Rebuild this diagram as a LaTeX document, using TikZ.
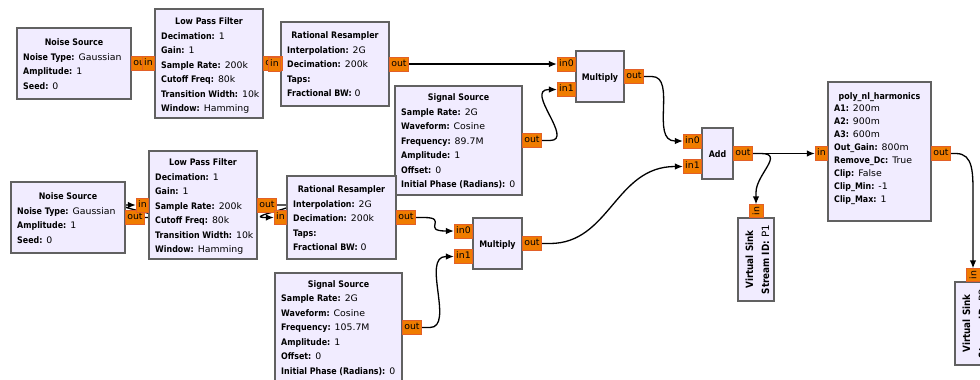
\documentclass[tikz,border=0pt]{standalone}
\usepackage{fontspec}
\setmainfont{DejaVu Sans}[FakeStretch=1.04]
\newfontfamily\keyfont{DejaVu Sans}[FakeStretch=0.88]
\usetikzlibrary{arrows.meta}
\definecolor{blockfill}{RGB}{241,236,255}
\definecolor{blockedge}{RGB}{97,97,97}
\definecolor{portfill}{RGB}{240,124,0}
\definecolor{portedge}{RGB}{226,96,40}
\pgfdeclarelayer{paper}
\pgfdeclarelayer{wires}
\pgfsetlayers{paper,wires,main}
% parameter line: bold key, plain value
\newcommand\kv[2]{{\keyfont\bfseries #1:} #2}
% block outline: name, x1, y1, x2, y2
\newcommand\fgbox[5]{\node[blk, minimum width={(#4-#2)*1bp}, minimum height={(#5-#3)*1bp}] (#1) at ({(#2+#4)/2},{(#3+#5)/2}) {};}
% block text: name, x1, x2, title baseline, line step, title, parameter lines
\newcommand\fgtext[7]{%
  \node[ttl] (#1-t) at ({(#2+#3)/2},#4) {#6};
  \foreach \row [count=\i] in {#7} {\node[txt] (#1-l\i) at ({#2+6},{#4+\i*#5}) {\row};}}
% connection with short straight ends and a cubic bend
\newcommand\wire[3]{\draw[wire] (#1.east) -- ++(8,0) .. controls +(#3,0) and ([xshift=-#3-8]#2.west) .. ([xshift=-8]#2.west) -- (#2.west);}
\tikzset{
  blk/.style={draw=blockedge, fill=blockfill, line width=1.3bp, inner sep=0pt},
  ttl/.style={anchor=base, inner sep=0pt, font=\fontsize{9bp}{10bp}\selectfont\keyfont\bfseries},
  txt/.style={anchor=base west, inner sep=0pt, font=\fontsize{9bp}{10bp}\selectfont},
  port/.style={draw=portedge, fill=portfill, line width=0.6bp, inner xsep=2bp, inner ysep=0pt,
    minimum height=14bp, font=\fontsize{9bp}{10bp}\selectfont, text height=6.5bp, text depth=1.7bp},
  outport/.style={port, anchor=west},
  inport/.style={port, anchor=east},
  vport/.style={draw=portedge, fill=portfill, line width=0.6bp, inner sep=0pt, minimum width=14bp,
    minimum height=13bp, anchor=south, font=\fontsize{9bp}{10bp}\selectfont},
  wire/.style={draw=black, line width=1.3bp, -{Latex[length=8bp,width=6.5bp]}},
  sinktext/.style={rotate=90, align=center, inner sep=0pt, font=\fontsize{10bp}{16bp}\selectfont}
}
\begin{document}
\begin{tikzpicture}[x=1bp, y=-1bp]
\useasboundingbox (0,0) rectangle (980,379);
\clip (0,0) rectangle (980,379);
\begin{pgfonlayer}{paper}
\fill[white] (0,0) rectangle (980,379);
\end{pgfonlayer}

% ---- blocks ----
\fgbox{ns1}{17}{28}{131}{99}
\fgtext{ns1}{17}{131}{45.75}{14.5}{Noise Source}{{\kv{Noise Type}{Gaussian}},{\kv{Amplitude}{1}},{\kv{Seed}{0}}}
\fgbox{lpf1}{155}{9}{263}{118}
\fgtext{lpf1}{155}{263}{24.5}{14.5}{Low Pass Filter}{{\kv{Decimation}{1}},{\kv{Gain}{1}},{\kv{Sample Rate}{200k}},{\kv{Cutoff Freq}{80k}},{\kv{Transition Width}{10k}},{\kv{Window}{Hamming}}}
\fgbox{rr1}{281}{22}{389}{106}
\fgtext{rr1}{281}{389}{38.5}{14.5}{Rational Resampler}{{\kv{Interpolation}{2G}},{\kv{Decimation}{200k}},{\kv{Taps}{}},{\kv{Fractional BW}{0}}}
\fgbox{ss1}{395}{86}{522}{195}
\fgtext{ss1}{395}{522}{100.5}{14.5}{Signal Source}{{\kv{Sample Rate}{2G}},{\kv{Waveform}{Cosine}},{\kv{Frequency}{89.7M}},{\kv{Amplitude}{1}},{\kv{Offset}{0}},{\kv{Initial Phase (Radians)}{0}}}
\fgbox{mul1}{576}{51}{624}{102}
\node[ttl] (mul1-t) at (600,80.5) {Multiply};
\fgbox{add}{702}{128}{733}{179}
\node[ttl] (add-t) at (717.5,157.5) {Add};
\fgbox{poly}{828}{82}{931}{221}
\fgtext{poly}{828}{931}{99}{12.9}{poly\_nl\_harmonics}{{\kv{A1}{200m}},{\kv{A2}{900m}},{\kv{A3}{600m}},{\kv{Out\_Gain}{800m}},{\kv{Remove\_Dc}{True}},{\kv{Clip}{False}},{\kv{Clip\_Min}{-1}},{\kv{Clip\_Max}{1}}}

\fgbox{ns2}{11}{182}{125}{253}
\fgtext{ns2}{11}{125}{199.75}{14.5}{Noise Source}{{\kv{Noise Type}{Gaussian}},{\kv{Amplitude}{1}},{\kv{Seed}{0}}}
\fgbox{lpf2}{149}{151}{257}{259}
\fgtext{lpf2}{149}{257}{165.5}{14.5}{Low Pass Filter}{{\kv{Decimation}{1}},{\kv{Gain}{1}},{\kv{Sample Rate}{200k}},{\kv{Cutoff Freq}{80k}},{\kv{Transition Width}{10k}},{\kv{Window}{Hamming}}}
\fgbox{rr2}{287}{176}{396}{259}
\fgtext{rr2}{287}{396}{192.5}{14.5}{Rational Resampler}{{\kv{Interpolation}{2G}},{\kv{Decimation}{200k}},{\kv{Taps}{}},{\kv{Fractional BW}{0}}}
\fgbox{mul2}{473}{218}{522}{269}
\node[ttl] (mul2-t) at (497.5,247.5) {Multiply};
\fgbox{ss2}{275}{273}{402}{382}
\fgtext{ss2}{275}{402}{287}{14.5}{Signal Source}{{\kv{Sample Rate}{2G}},{\kv{Waveform}{Cosine}},{\kv{Frequency}{105.7M}},{\kv{Amplitude}{1}},{\kv{Offset}{0}},{\kv{Initial Phase (Radians)}{0}}}

\fgbox{vs1}{738}{218}{774}{301}
\node[sinktext] (vs1-t) at (757.5,259.5) {{\keyfont\bfseries Virtual Sink}\\\kv{Stream ID}{P1}};
\fgbox{vs2}{955}{282}{991}{365}
\node[sinktext] (vs2-t) at (974.5,323.5) {{\keyfont\bfseries Virtual Sink}\\\kv{Stream ID}{P2}};

% ---- output ports ----
\node[outport] (ns1-out) at (131,63.5) {out};
\node[outport] (lpf1-out) at (263,63.5) {out};
\node[outport] (rr1-out) at (389,64) {out};
\node[outport] (ss1-out) at (522,140.5) {out};
\node[outport] (mul1-out) at (624,76.5) {out};
\node[outport] (add-out) at (733,153.5) {out};
\node[outport] (poly-out) at (931,153.5) {out};
\node[outport] (ns2-out) at (125,217.5) {out};
\node[outport] (lpf2-out) at (257,205) {out};
\node[outport] (rr2-out) at (396,217.5) {out};
\node[outport] (mul2-out) at (522,243.5) {out};
\node[outport] (ss2-out) at (402,327.5) {out};

% ---- input ports ----
\node[inport] (lpf1-in) at (155,63.5) {in};
\node[inport] (rr1-in) at (281,64) {in};
\node[inport] (mul1-in0) at (576,64) {in0};
\node[inport] (mul1-in1) at (576,89.5) {in1};
\node[inport] (add-in0) at (702,141) {in0};
\node[inport] (add-in1) at (702,166.5) {in1};
\node[inport] (poly-in) at (828,153.5) {in};
\node[inport] (lpf2-in) at (149,205) {in};
\node[inport] (rr2-in) at (287,217.5) {in};
\node[inport] (mul2-in0) at (473,231) {in0};
\node[inport] (mul2-in1) at (473,256.5) {in1};
\node[vport] (vs1-in) at (756,218) {\rotatebox{90}{in}};
\node[vport] (vs2-in) at (973,282) {\rotatebox{90}{in}};

% ---- connections (under the blocks) ----
\begin{pgfonlayer}{wires}
\wire{ns1-out}{lpf1-in}{25}
\wire{lpf1-out}{rr1-in}{25}
\draw[wire] (rr1-out.east) -- (mul1-in0.west);
\wire{ss1-out}{mul1-in1}{25}
\wire{mul1-out}{add-in0}{25}
\wire{ns2-out}{lpf2-in}{25}
\wire{lpf2-out}{rr2-in}{25}
\wire{rr2-out}{mul2-in0}{25}
\wire{ss2-out}{mul2-in1}{25}
\wire{mul2-out}{add-in1}{60}
\draw[wire] (add-out.east) -- (poly-in.west);
\draw[wire] (add-out.east) -- ++(8,0) .. controls +(24,0) and ([yshift=30]vs1-in.north) .. ([yshift=12]vs1-in.north) -- (vs1-in.north);
\draw[wire] (poly-out.east) -- ++(5,0) .. controls +(18,0) and ([yshift=95]vs2-in.north) .. ([yshift=70]vs2-in.north) -- (vs2-in.north);
\end{pgfonlayer}
\end{tikzpicture}
\end{document}
